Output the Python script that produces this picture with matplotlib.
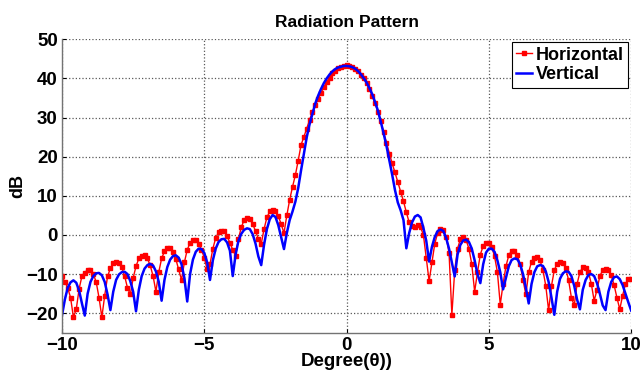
import numpy as np
import matplotlib
matplotlib.use('Agg')
import matplotlib.pyplot as plt

plt.rcParams['font.family'] = ['Liberation Sans', 'DejaVu Sans']
plt.rcParams['font.weight'] = 'bold'

# angle in degrees, 0.1 step
deg = np.round(np.arange(-100, 101) * 0.1, 1)

# Horizontal pattern (dB)
horizontal = [
    -10.6, -12.0, -13.5, -16.0, -21.0, -19.0, -13.8, -10.5, -9.6, -8.9,
    -9.0, -10.0, -12.0, -16.0, -21.0, -15.5, -10.6, -8.5, -7.2, -6.8,
    -7.2, -8.3, -10.5, -13.5, -15.2, -11.0, -8.0, -6.0, -5.3, -5.2,
    -6.0, -7.8, -10.5, -14.5, -9.5, -6.0, -4.2, -3.4, -3.4, -4.3,
    -6.2, -8.8, -11.5, -7.0, -3.8, -2.0, -1.4, -1.4, -2.2, -3.8,
    -5.8, -8.8, -7.5, -3.5, -0.8, 0.7, 1.1, 0.9, -0.3, -2.0,
    -3.8, -5.3, -1.0, 2.0, 3.8, 4.3, 4.0, 2.8, 1.0, -1.0,
    -2.3, 1.5, 4.5, 6.0, 6.5, 6.2, 4.8, 2.8, 0.5, 5.0,
    9.0, 12.3, 15.3, 19.0, 23.0, 25.1, 27.2, 29.5, 31.4, 33.1,
    34.8, 36.3, 37.8, 39.0, 40.2, 41.3, 42.0, 42.6, 43.0, 43.3,
    43.4,
    43.2, 42.9, 42.4, 41.8, 41.0, 40.0, 38.8, 37.3, 35.5, 33.6,
    31.5, 29.0, 26.3, 23.5, 20.8, 18.3, 16.0, 13.5, 11.0, 8.6,
    5.8, 3.2, 2.3, 2.1, 2.5, 2.0, 0.0, -6.0, -11.8, -7.0,
    -2.2, 0.5, 1.5, 1.2, -0.5, -4.5, -20.4, -9.0, -3.5, -1.0,
    -0.6, -1.3, -3.5, -7.5, -14.5, -9.5, -5.0, -2.8, -2.0, -2.1,
    -3.0, -5.5, -9.5, -17.8, -12.5, -8.0, -5.2, -4.0, -4.1, -5.2,
    -7.5, -11.5, -15.2, -9.5, -6.8, -5.8, -5.7, -6.5, -9.0, -13.0,
    -19.3, -13.0, -9.0, -7.3, -6.9, -7.2, -8.5, -11.5, -16.0, -18.0,
    -12.5, -9.5, -8.3, -8.4, -9.5, -12.5, -16.8, -14.0, -10.5, -9.0,
    -8.7, -9.0, -10.3, -12.8, -16.0, -19.0, -15.5, -12.5, -11.2, -11.2,
]

# Vertical pattern (dB)
vertical = [
    -20.5, -16.5, -13.5, -12.1, -11.6, -12.2, -14.2, -17.5, -20.6, -15.0,
    -12.0, -10.5, -9.8, -9.7, -10.3, -12.0, -15.2, -19.2, -14.5, -11.5,
    -10.1, -9.5, -9.4, -10.0, -11.8, -14.5, -19.5, -14.0, -10.5, -8.6,
    -7.7, -7.4, -7.8, -9.3, -12.0, -16.8, -11.5, -8.2, -6.3, -5.4,
    -5.2, -5.8, -7.5, -11.0, -17.0, -10.0, -6.3, -4.3, -3.5, -3.6,
    -4.6, -7.0, -11.5, -6.5, -3.5, -1.8, -1.1, -1.0, -1.9, -4.0,
    -10.5, -5.0, -1.5, 0.3, 1.3, 1.7, 1.5, 0.2, -2.2, -5.5,
    -7.7, -2.5, 1.5, 4.0, 5.1, 4.6, 2.5, -0.5, -3.6, 0.5,
    3.8, 6.0, 8.5, 12.0, 16.5, 20.8, 25.0, 28.3, 31.0, 33.6,
    35.6, 37.3, 38.8, 40.0, 41.0, 41.8, 42.4, 42.8, 43.0, 43.2,
    43.2,
    43.1, 42.9, 42.5, 41.9, 41.1, 40.1, 39.0, 37.6, 36.0, 34.0,
    31.8, 29.0, 26.0, 22.8, 19.2, 15.5, 11.5, 8.3, 6.3, 3.8,
    -3.4, 0.5, 3.2, 4.7, 5.1, 4.5, 1.8, -1.5, -6.8, -3.0,
    -0.5, 1.0, 1.4, 1.0, -0.8, -3.5, -7.0, -10.6, -5.0, -2.5,
    -1.4, -1.2, -1.8, -3.5, -6.5, -10.0, -12.3, -7.5, -4.5, -3.5,
    -3.5, -4.3, -6.5, -9.5, -13.9, -11.0, -8.0, -6.4, -6.0, -6.2,
    -7.5, -10.0, -13.5, -17.5, -12.5, -9.5, -8.0, -7.7, -7.9, -9.3,
    -12.0, -16.0, -20.4, -14.5, -11.2, -9.8, -9.3, -9.4, -10.5, -13.0,
    -16.5, -19.0, -14.0, -11.5, -10.2, -10.0, -10.5, -12.3, -15.0, -18.0,
    -19.2, -14.5, -12.0, -10.8, -10.6, -11.3, -12.8, -15.0, -17.2, -19.3,
]

xticks = [-10, -5, 0, 5, 10]
yticks = [-20, -10, 0, 10, 20, 30, 40, 50]

fig = plt.figure(figsize=(6.42, 3.71), dpi=100)
ax = fig.add_axes([0.0966, 0.103, 0.8865, 0.791])

ax.plot(deg, horizontal, color='red', lw=1.0, marker='s', ms=3.3,
        mec='red', mfc='red', label='Horizontal')
ax.plot(deg, vertical, color='blue', lw=1.8, label='Vertical')

ax.set_xlim(-10, 10)
ax.set_ylim(-25, 50)
ax.set_xticks(xticks)
ax.set_yticks(yticks)
ax.tick_params(direction='in', length=3, labelsize=13.5, width=0.8, colors='black', pad=3)
for lab in ax.get_xticklabels() + ax.get_yticklabels():
    lab.set_fontweight('bold')

ax.grid(True, linestyle=':', color='0.35', lw=0.9)
for s in ['top', 'right']:
    ax.spines[s].set_visible(False)
for s in ['left', 'bottom']:
    ax.spines[s].set_color('0.45')
    ax.spines[s].set_linewidth(1.0)

ax.set_title('Radiation Pattern', fontsize=12.5, fontweight='bold', pad=9)
ax.set_xlabel('Degree(θ))', fontsize=13.5, fontweight='bold', labelpad=-1)
ax.set_ylabel('dB', fontsize=13, fontweight='bold', labelpad=0)

leg = ax.legend(loc='upper right', fontsize=13, handlelength=0.9, handletextpad=0.2,
                borderaxespad=0.15, borderpad=0.25, labelspacing=0.15, fancybox=False,
                edgecolor='black', framealpha=1)
leg.get_frame().set_linewidth(0.8)
for t in leg.get_texts():
    t.set_fontweight('bold')

fig.savefig('out.png', dpi=100)
